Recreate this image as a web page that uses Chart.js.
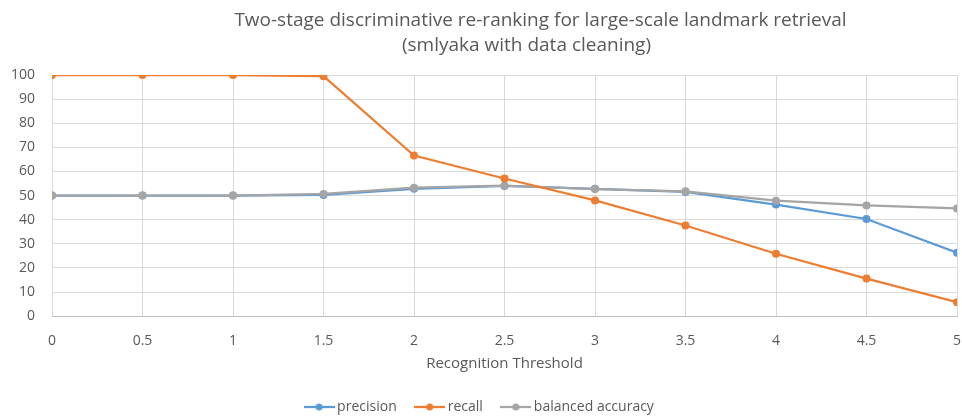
<!DOCTYPE html>
<html>
<head>
<meta charset="utf-8">
<script src="https://cdn.jsdelivr.net/npm/chart.js@4/dist/chart.umd.min.js"></script>
<style>
  html, body { margin: 0; padding: 0; background: #fff; }
  #wrap { width: 962px; height: 416px; }
</style>
</head>
<body>
<div id="wrap"><canvas id="c" width="962" height="416"></canvas></div>
<script>
// Recognition thresholds on the x axis
const thresholds = [0, 0.5, 1, 1.5, 2, 2.5, 3, 3.5, 4, 4.5, 5];

// Metric values (%) at each threshold
const precision = [50, 50, 50, 50.3, 52.8, 54, 52.8, 51.5, 46.3, 40.3, 26.3];
const recall = [100, 100, 100, 99.5, 66.6, 57.1, 48, 37.6, 25.9, 15.6, 5.8];
const balancedAccuracy = [50, 50, 50, 50.7, 53.3, 54.1, 52.7, 51.8, 47.9, 45.9, 44.7];

const seriesNames = ['precision', 'recall', 'balanced accuracy'];
const seriesColors = ['#5B9BD5', '#ED7D31', '#A5A5A5'];
// Stacking: recall on top, then balanced accuracy, then precision
const seriesOrder = [2, 0, 1];

const titleLines = [
  'Two-stage discriminative re-ranking for large-scale landmark retrieval',
  '(smlyaka with data cleaning)'
];
const xAxisTitle = 'Recognition Threshold';

const textColor = '#595959';
const fontFamily = '"Open Sans", "DejaVu Sans", sans-serif';

function toPoints(values) {
  return thresholds.map((t, i) => ({ x: t, y: values[i] }));
}

// Legend swatch: a short line with a dot in the middle
function swatch(color) {
  const cv = document.createElement('canvas');
  cv.width = 31; cv.height = 10;
  const g = cv.getContext('2d');
  g.strokeStyle = color;
  g.lineWidth = 2.25;
  g.beginPath(); g.moveTo(0, 5); g.lineTo(31, 5); g.stroke();
  g.fillStyle = color;
  g.beginPath(); g.arc(15.5, 5, 3.5, 0, Math.PI * 2); g.fill();
  return cv;
}

// Two-line title drawn above the plot
const titlePlugin = {
  id: 'twoLineTitle',
  afterDraw(chart) {
    const ctx = chart.ctx;
    ctx.save();
    ctx.fillStyle = textColor;
    ctx.font = '19px ' + fontFamily;
    ctx.textAlign = 'center';
    ctx.textBaseline = 'middle';
    const cx = (chart.chartArea.left + chart.chartArea.right) / 2;
    ctx.fillText(titleLines[0], cx + 36, 21);
    ctx.fillText(titleLines[1], cx + 22, 46);
    ctx.restore();
  }
};

const datasets = [precision, recall, balancedAccuracy].map((vals, i) => ({
  label: seriesNames[i],
  data: toPoints(vals),
  order: seriesOrder[i],
  borderColor: seriesColors[i],
  backgroundColor: seriesColors[i],
  borderWidth: 2.25,
  pointStyle: 'circle',
  pointRadius: 4,
  pointHoverRadius: 4,
  pointBorderWidth: 0,
  tension: 0
}));

new Chart(document.getElementById('c'), {
  type: 'line',
  data: { datasets },
  plugins: [titlePlugin],
  options: {
    responsive: false,
    animation: false,
    devicePixelRatio: 1,
    layout: { padding: { top: 75, right: 0, left: 0, bottom: -8 } },
    plugins: {
      title: { display: false },
      tooltip: { enabled: false },
      legend: {
        position: 'bottom',
        labels: {
          color: textColor,
          font: { size: 14, family: fontFamily },
          usePointStyle: true,
          pointStyleWidth: 22,
          padding: 22,
          generateLabels(chart) {
            return seriesNames.map((name, i) => ({
              text: name,
              fillStyle: seriesColors[i],
              strokeStyle: seriesColors[i],
              fontColor: textColor,
              lineWidth: 0,
              pointStyle: swatch(seriesColors[i]),
              hidden: false,
              datasetIndex: i
            }));
          }
        }
      }
    },
    scales: {
      x: {
        type: 'linear',
        min: 0,
        max: 5,
        ticks: {
          stepSize: 0.5,
          color: textColor,
          font: { size: 14, family: fontFamily },
          padding: 16,
          callback: (v) => String(Math.round(v * 10) / 10)
        },
        grid: { color: '#d9d9d9', lineWidth: 1, drawTicks: false },
        border: { color: '#bfbfbf', width: 1 },
        title: {
          display: true,
          text: xAxisTitle,
          color: textColor,
          font: { size: 15, family: fontFamily },
          padding: { top: -10, bottom: 5 }
        },
        afterFit(scale) { scale.paddingRight = 5; }
      },
      y: {
        min: 0,
        max: 100,
        ticks: {
          stepSize: 10,
          color: textColor,
          font: { size: 14, family: fontFamily },
          padding: 17
        },
        grid: { color: '#d9d9d9', lineWidth: 1, drawTicks: false },
        border: { display: false },
        afterFit(scale) { scale.width = 52; }
      }
    }
  }
});
</script>
</body>
</html>
